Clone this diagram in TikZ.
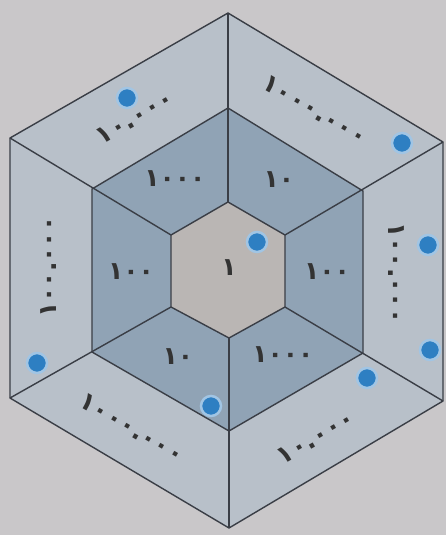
\documentclass[tikz,border=0pt]{standalone}
\usepackage{fontspec}
\newfontfamily\arabicfont{DejaVu Sans}
\definecolor{bg}{HTML}{C9C7C9}
\definecolor{outerc}{HTML}{B8C0C9}
\definecolor{midc}{HTML}{90A3B5}
\definecolor{innerc}{HTML}{BAB6B4}
\definecolor{edgec}{HTML}{3A3E46}
\definecolor{dotc}{HTML}{2E7FC2}
\tikzset{
  edge/.style={draw=edgec, line width=1.4pt, line join=round},
  lbl/.style={font=\arabicfont\bfseries\fontsize{25}{27}\selectfont, text=black!80, inner sep=0pt},
  bluedot/.style={circle, fill=dotc, minimum size=20pt, inner sep=0pt, draw=dotc!45, line width=2.5pt}
}
\begin{document}
\begin{tikzpicture}[x=1pt, y=-1pt]
\fill[bg] (0,0) rectangle (446,535);
\useasboundingbox (0,0) rectangle (446,535);
% outer
\coordinate (oT) at (228,13);
\coordinate (oUL) at (10,138);
\coordinate (oLL) at (10,398);
\coordinate (oB) at (229,528);
\coordinate (oLR) at (443,401);
\coordinate (oUR) at (443,142);
% middle
\coordinate (mT) at (228,108);
\coordinate (mUL) at (92,189);
\coordinate (mLL) at (92,352);
\coordinate (mB) at (229,431);
\coordinate (mLR) at (363,353);
\coordinate (mUR) at (363,191);
% inner
\coordinate (iT) at (228,202);
\coordinate (iUL) at (171,235);
\coordinate (iLL) at (171,307);
\coordinate (iB) at (229,338);
\coordinate (iLR) at (285,307);
\coordinate (iUR) at (285,235);

\fill[outerc] (oT) -- (oUL) -- (oLL) -- (oB) -- (oLR) -- (oUR) -- cycle;
\fill[midc] (mT) -- (mUL) -- (mLL) -- (mB) -- (mLR) -- (mUR) -- cycle;
\fill[innerc] (iT) -- (iUL) -- (iLL) -- (iB) -- (iLR) -- (iUR) -- cycle;

\path[edge] (oT) -- (oUL) -- (oLL) -- (oB) -- (oLR) -- (oUR) -- cycle;
\path[edge] (mT) -- (mUL) -- (mLL) -- (mB) -- (mLR) -- (mUR) -- cycle;
\path[edge] (iT) -- (iUL) -- (iLL) -- (iB) -- (iLR) -- (iUR) -- cycle;
\path[edge] (oT) -- (iT);
\path[edge] (oUL) -- (iUL);
\path[edge] (oLL) -- (iLL);
\path[edge] (oB) -- (iB);
\path[edge] (oLR) -- (iLR);
\path[edge] (oUR) -- (iUR);

% labels
\node[lbl] (c1) at (229,268) {١};
\node[lbl] (m1) at (175,179) {١٠٠٠};
\node[lbl] (m2) at (279,180) {١٠};
\node[lbl] (m3) at (131,272) {١٠٠};
\node[lbl] (m4) at (327,272) {١٠٠};
\node[lbl] (m5) at (178,357) {١٠};
\node[lbl] (m6) at (283,355) {١٠٠٠};
\node[lbl, rotate=30] (o1) at (135,117) {١٠.٠٠٠};
\node[lbl, rotate=-30] (o2) at (315,110) {١٠٠٠.٠٠٠};
\node[lbl, rotate=-90] (o3) at (396,273) {١٠٠.٠٠٠};
\node[lbl, rotate=30] (o4) at (316,437) {١٠.٠٠٠};
\node[lbl, rotate=-30] (o5) at (132,428) {١٠٠٠.٠٠٠};
\node[lbl, rotate=90] (o6) at (49,267) {١٠٠.٠٠٠};

% blue dots
\node[bluedot] (d1) at (127,98) {};
\node[bluedot] (d2) at (402,143) {};
\node[bluedot] (d3) at (428,245) {};
\node[bluedot] (d4) at (257,242) {};
\node[bluedot] (d5) at (430,350) {};
\node[bluedot] (d6) at (367,378) {};
\node[bluedot] (d7) at (211,406) {};
\node[bluedot] (d8) at (37,363) {};
\end{tikzpicture}
\end{document}
